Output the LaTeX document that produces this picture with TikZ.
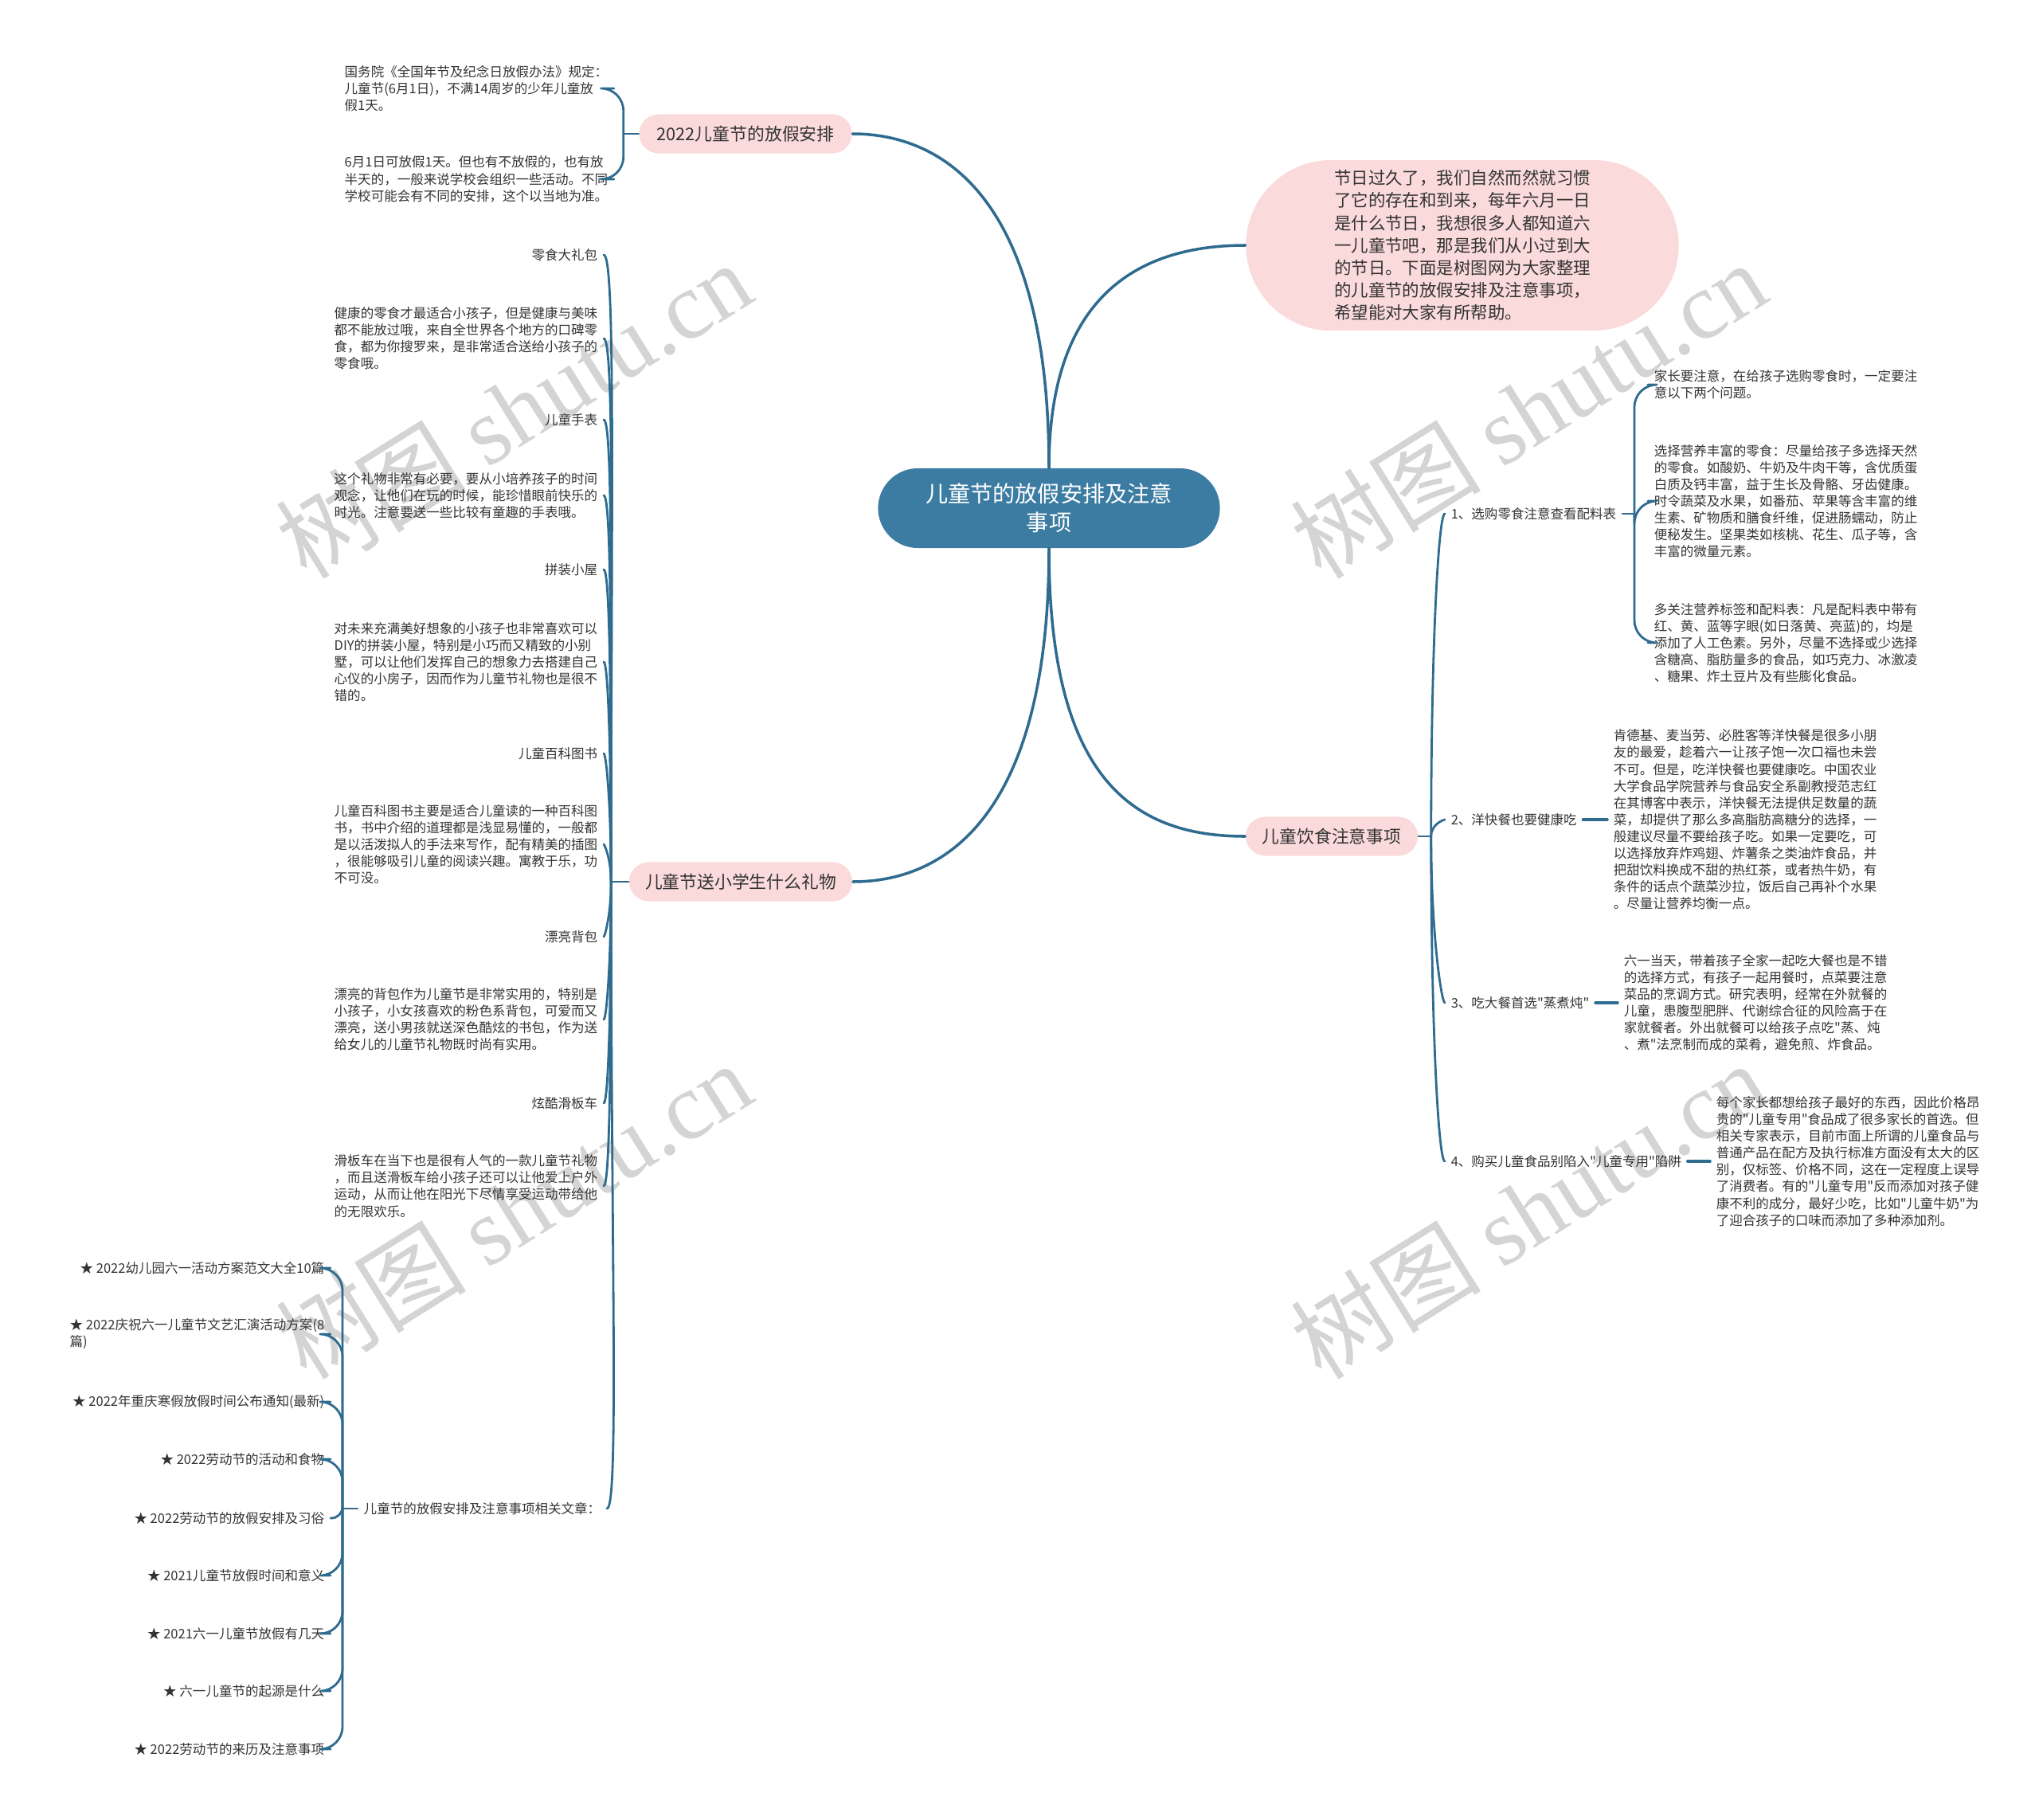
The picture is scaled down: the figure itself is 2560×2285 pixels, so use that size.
\documentclass[tikz,border=0pt]{standalone}
\usepackage{fontspec}
\setmainfont{Noto Sans CJK SC}
\setmonofont{Noto Sans CJK SC}
\newfontfamily\wmserif{Liberation Serif}
\newcommand\dq{{\ttfamily"}}
\definecolor{linkblue}{HTML}{2E6B8F}
\definecolor{rootblue}{HTML}{3D7CA2}
\definecolor{pinkfill}{HTML}{FADADA}
\definecolor{txtgray}{HTML}{333333}
\definecolor{markgray}{HTML}{D4D4D4}
\tikzset{
  root/.style={fill=rootblue,text=white,rounded corners=0.5cm,minimum width=4.29cm,
    minimum height=1cm,align=center,font=\fontsize{8}{10.2}\selectfont},
  pill/.style={fill=pinkfill,text=txtgray,rounded corners=0.245cm,minimum height=0.49cm,
    font=\fontsize{6.2}{7.5}\selectfont},
  intro/.style={fill=pinkfill,text=txtgray,rounded corners=1.07cm,minimum width=5.43cm,
    minimum height=2.14cm,align=left,font=\fontsize{6.1}{8}\selectfont},
  leaf/.style={text=txtgray,align=left,inner sep=2pt,font=\fontsize{4.7}{6}\selectfont},
  wmark/.style={text=markgray,rotate=32,font=\fontsize{34}{34}\selectfont},
  trunk/.style={draw=linkblue,line width=1pt},
  twig/.style={draw=linkblue,line width=0.8pt},
  goup/.style={out=90,out looseness=1.5,in looseness=0.05},
  godown/.style={out=270,out looseness=1.5,in looseness=0.05},
}
\begin{document}
\begin{tikzpicture}[x=0.01cm,y=-0.01cm,line cap=round,line join=round]
 \useasboundingbox (0,0) rectangle (2560,2285);
 % watermarks
 \node[wmark] (wm1) at (645,514) {树图 {\wmserif shutu.cn}};
 \node[wmark] (wm2) at (1919,514) {树图 {\wmserif shutu.cn}};
 \node[wmark] (wm3) at (645,1519) {树图 {\wmserif shutu.cn}};
 \node[wmark] (wm4) at (1919,1519) {树图 {\wmserif shutu.cn}};

 \node[root] (ctr) at (1317,638) {儿童节的放假安排及注意\\事项};
 \node[pill,minimum width=2.67cm] (hol) at (936,168) {2022儿童节的放假安排};
 \node[pill,minimum width=2.80cm] (gift) at (930,1107) {儿童节送小学生什么礼物};
 \node[pill,minimum width=2.16cm] (diet) at (1672,1050) {儿童饮食注意事项};
 \node[intro] (intro) at (1836,308) {节日过久了，我们自然而然就习惯\\了它的存在和到来，每年六月一日\\是什么节日，我想很多人都知道六\\一儿童节吧，那是我们从小过到大\\的节日。下面是树图网为大家整理\\的儿童节的放假安排及注意事项，\\希望能对大家有所帮助。};

 \draw[trunk] (ctr.north) .. controls +(0,-330) and +(120,0) .. (hol.east);
 \draw[trunk] (ctr.north) .. controls +(0,-220) and +(-130,0) .. (intro.west);
 \draw[trunk] (ctr.south) .. controls +(0,290) and +(-140,0) .. (diet.west);
 \draw[trunk] (ctr.south) .. controls +(0,330) and +(120,0) .. (gift.east);

 % 2022 holiday
 \node[leaf,anchor=east] (hol1) at (771,111) {国务院《全国年节及纪念日放假办法》规定：\\儿童节(6月1日)，不满14周岁的少年儿童放\\假1天。};
 \node[leaf,anchor=east] (hol2) at (771,225) {6月1日可放假1天。但也有不放假的，也有放\\半天的，一般来说学校会组织一些活动。不同\\学校可能会有不同的安排，这个以当地为准。};
 \draw[twig] (hol.west) -- ++(-19,0) coordinate (holfork);
 \draw[twig,rounded corners=8] (holfork) |- (hol1.east);
 \draw[twig,rounded corners=8] (holfork) |- (hol2.east);

 % gifts
 \node[leaf,anchor=east] (gt1) at (758,320) {零食大礼包};
 \node[leaf,anchor=east] (gd1) at (758,425) {健康的零食才最适合小孩子，但是健康与美味\\都不能放过哦，来自全世界各个地方的口碑零\\食，都为你搜罗来，是非常适合送给小孩子的\\零食哦。};
 \node[leaf,anchor=east] (gt2) at (758,527) {儿童手表};
 \node[leaf,anchor=east] (gd2) at (758,622) {这个礼物非常有必要，要从小培养孩子的时间\\观念，让他们在玩的时候，能珍惜眼前快乐的\\时光。注意要送一些比较有童趣的手表哦。};
 \node[leaf,anchor=east] (gt3) at (758,715) {拼装小屋};
 \node[leaf,anchor=east] (gd3) at (758,831) {对未来充满美好想象的小孩子也非常喜欢可以\\DIY的拼装小屋，特别是小巧而又精致的小别\\墅，可以让他们发挥自己的想象力去搭建自己\\心仪的小房子，因而作为儿童节礼物也是很不\\错的。};
 \node[leaf,anchor=east] (gt4) at (758,946) {儿童百科图书};
 \node[leaf,anchor=east] (gd4) at (758,1060) {儿童百科图书主要是适合儿童读的一种百科图\\书，书中介绍的道理都是浅显易懂的，一般都\\是以活泼拟人的手法来写作，配有精美的插图\\，很能够吸引儿童的阅读兴趣。寓教于乐，功\\不可没。};
 \node[leaf,anchor=east] (gt5) at (758,1176) {漂亮背包};
 \node[leaf,anchor=east] (gd5) at (758,1280) {漂亮的背包作为儿童节是非常实用的，特别是\\小孩子，小女孩喜欢的粉色系背包，可爱而又\\漂亮，送小男孩就送深色酷炫的书包，作为送\\给女儿的儿童节礼物既时尚有实用。};
 \node[leaf,anchor=east] (gt6) at (758,1385) {炫酷滑板车};
 \node[leaf,anchor=east] (gd6) at (758,1489) {滑板车在当下也是很有人气的一款儿童节礼物\\，而且送滑板车给小孩子还可以让他爱上户外\\运动，从而让他在阳光下尽情享受运动带给他\\的无限欢乐。};
 \node[leaf,anchor=west] (rel) at (449,1894) {儿童节的放假安排及注意事项相关文章：};
 \draw[twig] (gift.west) -- ++(-22,0) coordinate (giftfork);
 \draw[twig] (giftfork) to[goup,in=0] (gt1.east);
 \draw[twig] (giftfork) to[goup,in=0] (gd1.east);
 \draw[twig] (giftfork) to[goup,in=0] (gt2.east);
 \draw[twig] (giftfork) to[goup,in=0] (gd2.east);
 \draw[twig] (giftfork) to[goup,in=0] (gt3.east);
 \draw[twig] (giftfork) to[goup,in=0] (gd3.east);
 \draw[twig] (giftfork) to[goup,in=0] (gt4.east);
 \draw[twig] (giftfork) to[goup,in=0] (gd4.east);
 \draw[twig] (giftfork) to[godown,in=0] (gt5.east);
 \draw[twig] (giftfork) to[godown,in=0] (gd5.east);
 \draw[twig] (giftfork) to[godown,in=0] (gt6.east);
 \draw[twig] (giftfork) to[godown,in=0] (gd6.east);
 \draw[twig] (giftfork) to[godown,in=0] (rel.east);

 % related articles
 \node[leaf,anchor=east] (s1) at (415,1592) {★ 2022幼儿园六一活动方案范文大全10篇};
 \node[leaf,anchor=east] (s2) at (415,1675) {★ 2022庆祝六一儿童节文艺汇演活动方案(8\\篇)};
 \node[leaf,anchor=east] (s3) at (415,1760) {★ 2022年重庆寒假放假时间公布通知(最新)};
 \node[leaf,anchor=east] (s4) at (415,1832) {★ 2022劳动节的活动和食物};
 \node[leaf,anchor=east] (s5) at (415,1906) {★ 2022劳动节的放假安排及习俗};
 \node[leaf,anchor=east] (s6) at (415,1978) {★ 2021儿童节放假时间和意义};
 \node[leaf,anchor=east] (s7) at (415,2051) {★ 2021六一儿童节放假有几天};
 \node[leaf,anchor=east] (s8) at (415,2123) {★ 六一儿童节的起源是什么};
 \node[leaf,anchor=east] (s9) at (415,2196) {★ 2022劳动节的来历及注意事项};
 \coordinate (relfork) at (430,1894);
 \draw[twig] (rel.west) -- (relfork);
 \draw[twig,rounded corners=8] (relfork) |- (s1.east);
 \draw[twig,rounded corners=8] (relfork) |- (s2.east);
 \draw[twig,rounded corners=8] (relfork) |- (s3.east);
 \draw[twig,rounded corners=8] (relfork) |- (s4.east);
 \draw[twig,rounded corners=4] (relfork) |- (s5.east);
 \draw[twig,rounded corners=8] (relfork) |- (s6.east);
 \draw[twig,rounded corners=8] (relfork) |- (s7.east);
 \draw[twig,rounded corners=8] (relfork) |- (s8.east);
 \draw[twig,rounded corners=8] (relfork) |- (s9.east);

 % diet
 \node[leaf,anchor=west] (d1) at (1814,645) {1、选购零食注意查看配料表};
 \node[leaf,anchor=west] (d2) at (1814,1029) {2、洋快餐也要健康吃};
 \node[leaf,anchor=west] (d3) at (1814,1259) {3、吃大餐首选\dq 蒸煮炖\dq};
 \node[leaf,anchor=west] (d4) at (1814,1458) {4、购买儿童食品别陷入\dq 儿童专用\dq 陷阱};
 \draw[twig] (diet.east) -- ++(16,0) coordinate (dietfork);
 \draw[twig] (dietfork) to[goup,in=180] (d1.west);
 \draw[twig] (dietfork) to[goup,in=180] (d2.west);
 \draw[twig] (dietfork) to[godown,in=180] (d3.west);
 \draw[twig] (dietfork) to[godown,in=180] (d4.west);

 \node[leaf,anchor=west] (d1a) at (2069,483) {家长要注意，在给孩子选购零食时，一定要注\\意以下两个问题。};
 \node[leaf,anchor=west] (d1b) at (2069,629) {选择营养丰富的零食：尽量给孩子多选择天然\\的零食。如酸奶、牛奶及牛肉干等，含优质蛋\\白质及钙丰富，益于生长及骨骼、牙齿健康。\\时令蔬菜及水果，如番茄、苹果等含丰富的维\\生素、矿物质和膳食纤维，促进肠蠕动，防止\\便秘发生。坚果类如核桃、花生、瓜子等，含\\丰富的微量元素。};
 \node[leaf,anchor=west] (d1c) at (2069,807) {多关注营养标签和配料表：凡是配料表中带有\\红、黄、蓝等字眼(如日落黄、亮蓝)的，均是\\添加了人工色素。另外，尽量不选择或少选择\\含糖高、脂肪量多的食品，如巧克力、冰激凌\\、糖果、炸土豆片及有些膨化食品。};
 \coordinate (d1fork) at (2052,645);
 \draw[twig] (d1.east) -- (d1fork);
 \draw[twig,rounded corners=8] (d1fork) |- (d1a.west);
 \draw[twig,rounded corners=8] (d1fork) |- (d1b.west);
 \draw[twig,rounded corners=8] (d1fork) |- (d1c.west);

 \node[leaf,anchor=west] (d2a) at (2018,1029) {肯德基、麦当劳、必胜客等洋快餐是很多小朋\\友的最爱，趁着六一让孩子饱一次口福也未尝\\不可。但是，吃洋快餐也要健康吃。中国农业\\大学食品学院营养与食品安全系副教授范志红\\在其博客中表示，洋快餐无法提供足数量的蔬\\菜，却提供了那么多高脂肪高糖分的选择，一\\般建议尽量不要给孩子吃。如果一定要吃，可\\以选择放弃炸鸡翅、炸薯条之类油炸食品，并\\把甜饮料换成不甜的热红茶，或者热牛奶，有\\条件的话点个蔬菜沙拉，饭后自己再补个水果\\。尽量让营养均衡一点。};
 \node[leaf,anchor=west] (d3a) at (2031,1259) {六一当天，带着孩子全家一起吃大餐也是不错\\的选择方式，有孩子一起用餐时，点菜要注意\\菜品的烹调方式。研究表明，经常在外就餐的\\儿童，患腹型肥胖、代谢综合征的风险高于在\\家就餐者。外出就餐可以给孩子点吃\dq 蒸、炖\\、煮\dq 法烹制而成的菜肴，避免煎、炸食品。};
 \node[leaf,anchor=west] (d4a) at (2147,1458) {每个家长都想给孩子最好的东西，因此价格昂\\贵的\dq 儿童专用\dq 食品成了很多家长的首选。但\\相关专家表示，目前市面上所谓的儿童食品与\\普通产品在配方及执行标准方面没有太大的区\\别，仅标签、价格不同，这在一定程度上误导\\了消费者。有的\dq 儿童专用\dq 反而添加对孩子健\\康不利的成分，最好少吃，比如\dq 儿童牛奶\dq 为\\了迎合孩子的口味而添加了多种添加剂。};
 \draw[trunk] (d2.east) -- (d2a.west);
 \draw[trunk] (d3.east) -- (d3a.west);
 \draw[trunk] (d4.east) -- (d4a.west);
\end{tikzpicture}
\end{document}
